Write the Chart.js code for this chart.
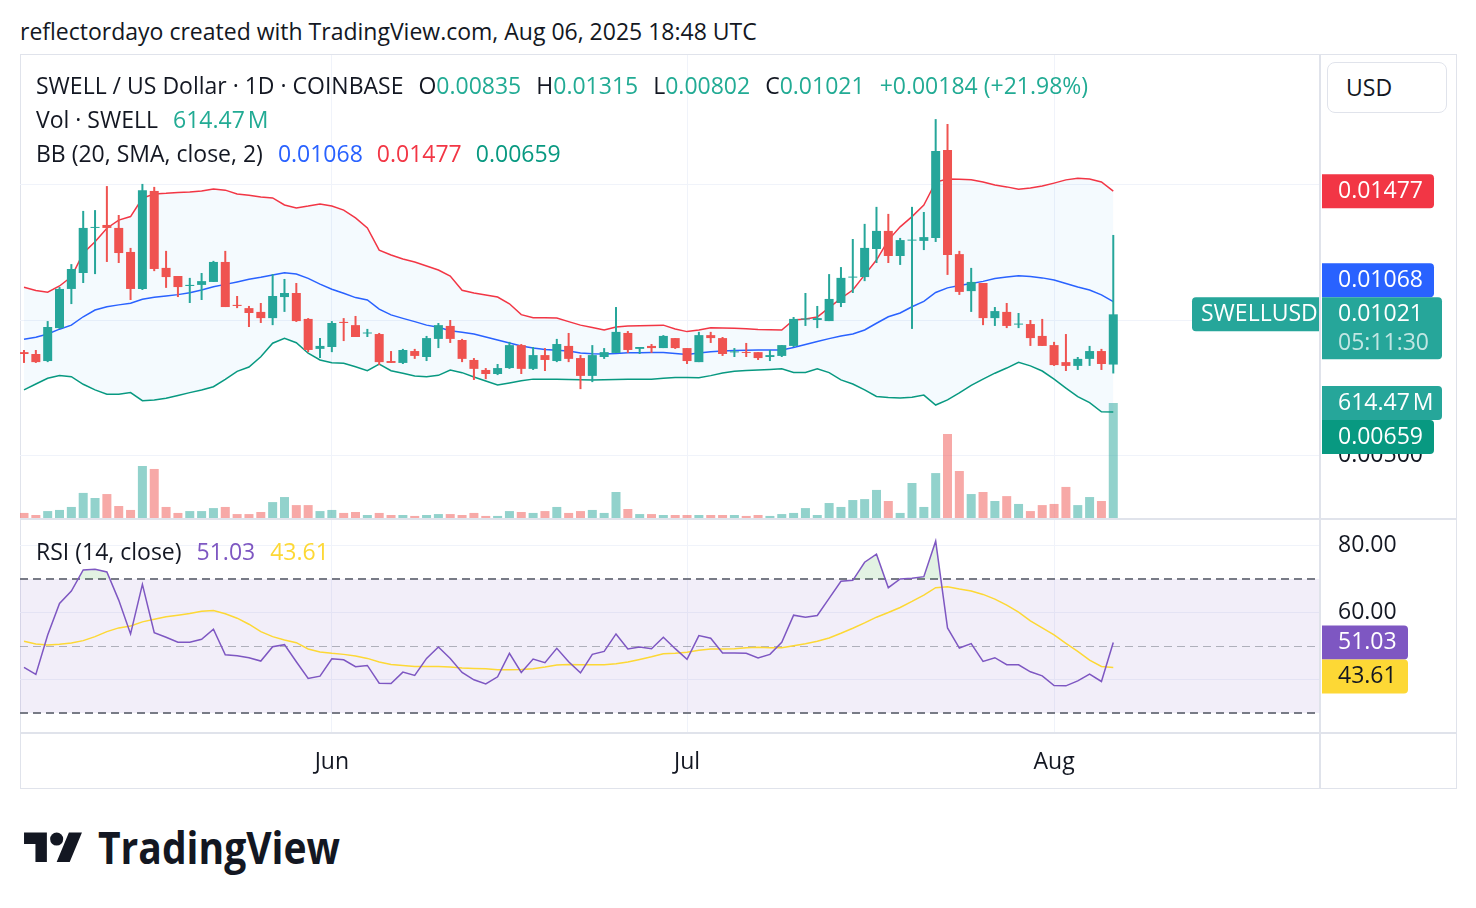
<!DOCTYPE html>
<html lang="en">
<head>
<meta charset="utf-8">
<title>SWELL / US Dollar · 1D · COINBASE</title>
<script src="https://cdn.jsdelivr.net/npm/chart.js@4.4.1/dist/chart.umd.min.js"></script>
<style>
  html,body{margin:0;padding:0;background:#ffffff;}
  body{position:relative;width:1476px;height:908px;overflow:hidden;color:#131722;font-size:20px;}
  .abs{position:absolute;white-space:nowrap;line-height:24px;}
  canvas{position:absolute;display:block;}
  .sep{position:absolute;background:#e0e3eb;}
  .k{color:#131722;}
</style>
</head>
<body>
<div id="title" class="abs" style="left:20px;top:19px;"></div>
<div id="frame" style="position:absolute;left:20px;top:54px;width:1437px;height:735px;border:1px solid #e0e3eb;box-sizing:border-box;"></div>
<canvas id="price" width="1436" height="463" style="left:20px;top:55px;width:1436px;height:463px;"></canvas>
<canvas id="rsi" width="1436" height="268" style="left:20px;top:520px;width:1436px;height:268px;"></canvas>
<div class="sep" style="left:1319px;top:54px;width:2px;height:734px;"></div>
<div class="sep" style="left:20px;top:518px;width:1436px;height:2px;"></div>
<div class="sep" style="left:20px;top:732px;width:1436px;height:2px;"></div>
<div class="abs" id="usd" style="left:1327px;top:62px;width:120px;height:51px;border:1px solid #e0e3eb;border-radius:8px;box-sizing:border-box;line-height:49px;padding-left:18px;background:#fff;">USD</div>
<div id="row1" class="abs" style="left:36px;top:73px;"></div>
<div id="row2" class="abs" style="left:36px;top:107px;"></div>
<div id="row3" class="abs" style="left:36px;top:141px;"></div>
<div id="row4" class="abs" style="left:36px;top:539px;"></div>
<svg style="position:absolute;left:24px;top:825.5px;" width="58.8" height="45.7" viewBox="0 0 36 28">
  <path d="M14 22H7V11H0V4h14v18zM28 22h-8l7.5-18h8L28 22z" fill="#131722"/>
  <circle cx="20" cy="8" r="4" fill="#131722"/>
</svg>
<svg id="tvword" style="position:absolute;left:90px;top:820px;" width="270" height="60">
  <text id="tvtext" x="8" y="44" font-size="44" font-weight="700" fill="#131722" textLength="242" lengthAdjust="spacingAndGlyphs">TradingView</text>
</svg>

<script>
// ---------------- DATA ----------------
const dates = [
'2025-05-06','2025-05-07','2025-05-08','2025-05-09','2025-05-10','2025-05-11','2025-05-12','2025-05-13','2025-05-14','2025-05-15',
'2025-05-16','2025-05-17','2025-05-18','2025-05-19','2025-05-20','2025-05-21','2025-05-22','2025-05-23','2025-05-24','2025-05-25',
'2025-05-26','2025-05-27','2025-05-28','2025-05-29','2025-05-30','2025-05-31','2025-06-01','2025-06-02','2025-06-03','2025-06-04',
'2025-06-05','2025-06-06','2025-06-07','2025-06-08','2025-06-09','2025-06-10','2025-06-11','2025-06-12','2025-06-13','2025-06-14',
'2025-06-15','2025-06-16','2025-06-17','2025-06-18','2025-06-19','2025-06-20','2025-06-21','2025-06-22','2025-06-23','2025-06-24',
'2025-06-25','2025-06-26','2025-06-27','2025-06-28','2025-06-29','2025-06-30','2025-07-01','2025-07-02','2025-07-03','2025-07-04',
'2025-07-05','2025-07-06','2025-07-07','2025-07-08','2025-07-09','2025-07-10','2025-07-11','2025-07-12','2025-07-13','2025-07-14',
'2025-07-15','2025-07-16','2025-07-17','2025-07-18','2025-07-19','2025-07-20','2025-07-21','2025-07-22','2025-07-23','2025-07-24',
'2025-07-25','2025-07-26','2025-07-27','2025-07-28','2025-07-29','2025-07-30','2025-07-31','2025-08-01','2025-08-02','2025-08-03',
'2025-08-04','2025-08-05','2025-08-06'];

const open = [0.00881,0.00874,0.00848,0.00970,0.01115,0.01174,0.01341,0.01352,0.01341,0.01252,
0.01115,0.01478,0.01193,0.01163,0.01126,0.01130,0.01141,0.01215,0.01056,0.01044,
0.01030,0.01007,0.01085,0.01100,0.01004,0.00893,0.00900,0.00993,0.00981,0.00950,
0.00948,0.00848,0.00841,0.00885,0.00863,0.00930,0.00978,0.00926,0.00852,0.00815,
0.00800,0.00822,0.00907,0.00819,0.00870,0.00848,0.00904,0.00859,0.00793,0.00863,
0.00878,0.00952,0.00893,0.00904,0.00896,0.00933,0.00896,0.00844,0.00944,0.00933,
0.00880,0.00881,0.00881,0.00863,0.00867,0.00904,0.01002,0.01000,0.00996,0.01063,
0.01157,0.01159,0.01263,0.01330,0.01237,0.01294,0.01293,0.01304,0.01630,0.01244,
0.01107,0.01137,0.01007,0.01030,0.00983,0.00985,0.00941,0.00907,0.00844,0.00830,
0.00856,0.00885,0.00835];

const high = [0.00889,0.00889,0.00996,0.01122,0.01207,0.01404,0.01407,0.01496,0.01389,0.01267,
0.01504,0.01493,0.01256,0.01163,0.01156,0.01174,0.01219,0.01256,0.01089,0.01052,
0.01063,0.01170,0.01152,0.01137,0.01007,0.00933,0.00996,0.01007,0.01015,0.00967,
0.00952,0.00885,0.00893,0.00893,0.00941,0.00989,0.01000,0.00930,0.00859,0.00822,
0.00837,0.00919,0.00911,0.00900,0.00896,0.00930,0.00952,0.00870,0.00907,0.00896,
0.01048,0.00959,0.00900,0.00911,0.00944,0.00933,0.00896,0.00956,0.00956,0.00937,
0.00896,0.00915,0.00881,0.00889,0.00907,0.01011,0.01100,0.01052,0.01170,0.01196,
0.01300,0.01356,0.01419,0.01393,0.01304,0.01419,0.01400,0.01744,0.01726,0.01256,
0.01193,0.01137,0.01048,0.01063,0.01026,0.01000,0.01004,0.00919,0.00948,0.00863,
0.00904,0.00893,0.01315];

const low = [0.00841,0.00841,0.00844,0.00967,0.01059,0.01137,0.01170,0.01215,0.01211,0.01074,
0.01111,0.01181,0.01119,0.01085,0.01063,0.01074,0.01141,0.01048,0.01044,0.00974,
0.00989,0.00981,0.01030,0.00993,0.00881,0.00859,0.00881,0.00922,0.00937,0.00937,
0.00833,0.00841,0.00837,0.00856,0.00848,0.00896,0.00915,0.00844,0.00778,0.00781,
0.00796,0.00819,0.00800,0.00815,0.00811,0.00844,0.00844,0.00744,0.00770,0.00856,
0.00878,0.00878,0.00874,0.00878,0.00896,0.00893,0.00837,0.00844,0.00915,0.00867,
0.00863,0.00863,0.00852,0.00848,0.00863,0.00900,0.00978,0.00970,0.00996,0.01048,
0.01100,0.01144,0.01211,0.01211,0.01204,0.00967,0.01259,0.01289,0.01167,0.01093,
0.01030,0.00981,0.00978,0.00970,0.00970,0.00904,0.00904,0.00830,0.00811,0.00815,
0.00830,0.00815,0.00802];

const close = [0.00874,0.00844,0.00974,0.01115,0.01189,0.01341,0.01344,0.01341,0.01248,0.01115,
0.01481,0.01189,0.01159,0.01122,0.01130,0.01144,0.01215,0.01048,0.01052,0.01026,
0.01007,0.01089,0.01100,0.00996,0.00889,0.00904,0.00989,0.00989,0.00937,0.00952,
0.00844,0.00841,0.00889,0.00867,0.00933,0.00981,0.00930,0.00856,0.00819,0.00800,
0.00822,0.00907,0.00819,0.00870,0.00852,0.00911,0.00856,0.00793,0.00870,0.00881,
0.00956,0.00889,0.00900,0.00896,0.00941,0.00896,0.00848,0.00944,0.00933,0.00874,
0.00881,0.00878,0.00859,0.00870,0.00907,0.01004,0.01004,0.01007,0.01078,0.01156,
0.01159,0.01267,0.01330,0.01237,0.01296,0.01296,0.01307,0.01626,0.01241,0.01104,
0.01141,0.01007,0.01033,0.00978,0.00985,0.00933,0.00904,0.00833,0.00830,0.00856,
0.00885,0.00837,0.01021];

// volume in millions of SWELL
const volume = [27,16,37,43,59,134,107,128,64,43,
278,262,59,27,37,37,53,59,21,21,
32,85,112,69,69,37,43,27,32,16,
27,16,16,11,16,21,21,16,27,11,
11,37,32,27,37,59,27,37,43,27,
139,48,21,21,16,16,16,16,16,16,
16,11,16,11,21,27,53,16,80,59,
96,101,150,91,27,187,59,240,449,251,
128,139,91,117,75,37,69,75,166,69,
112,91,614.47];

const bbUpper = [0.01121,0.01109,0.01103,0.01126,0.01160,0.01247,0.01290,0.01340,0.01370,0.01383,
0.01451,0.01467,0.01469,0.01472,0.01474,0.01478,0.01485,0.01481,0.01467,0.01462,
0.01456,0.01452,0.01426,0.01415,0.01422,0.01430,0.01422,0.01407,0.01378,0.01341,
0.01259,0.01241,0.01226,0.01215,0.01200,0.01185,0.01163,0.01110,0.01100,0.01093,
0.01085,0.01060,0.01020,0.01008,0.01008,0.01007,0.00994,0.00981,0.00972,0.00963,
0.00974,0.00978,0.00979,0.00980,0.00981,0.00967,0.00957,0.00963,0.00971,0.00970,
0.00969,0.00968,0.00965,0.00964,0.00963,0.01000,0.01004,0.01011,0.01046,0.01080,
0.01111,0.01167,0.01222,0.01296,0.01345,0.01383,0.01426,0.01511,0.01522,0.01521,
0.01519,0.01511,0.01500,0.01493,0.01484,0.01489,0.01496,0.01507,0.01519,0.01525,
0.01522,0.01511,0.01477];

const bbBasis = [0.00929,0.00936,0.00948,0.00966,0.00981,0.01012,0.01037,0.01049,0.01056,0.01062,
0.01077,0.01084,0.01089,0.01094,0.01101,0.01111,0.01123,0.01132,0.01141,0.01151,
0.01158,0.01167,0.01175,0.01170,0.01154,0.01133,0.01114,0.01099,0.01083,0.01074,
0.01040,0.01019,0.01006,0.00994,0.00981,0.00973,0.00960,0.00955,0.00948,0.00937,
0.00926,0.00915,0.00904,0.00896,0.00891,0.00888,0.00885,0.00878,0.00875,0.00874,
0.00876,0.00879,0.00879,0.00880,0.00880,0.00876,0.00872,0.00878,0.00882,0.00885,
0.00887,0.00888,0.00889,0.00889,0.00889,0.00898,0.00909,0.00920,0.00931,0.00941,
0.00948,0.00963,0.00988,0.01012,0.01026,0.01049,0.01069,0.01102,0.01119,0.01128,
0.01135,0.01143,0.01154,0.01159,0.01164,0.01161,0.01156,0.01148,0.01135,0.01122,
0.01111,0.01093,0.01068];

const bbLower = [0.00741,0.00763,0.00784,0.00794,0.00790,0.00762,0.00741,0.00725,0.00725,0.00731,
0.00701,0.00704,0.00710,0.00720,0.00731,0.00741,0.00753,0.00780,0.00810,0.00826,
0.00864,0.00914,0.00932,0.00916,0.00877,0.00852,0.00842,0.00840,0.00827,0.00812,
0.00837,0.00812,0.00803,0.00793,0.00790,0.00795,0.00815,0.00805,0.00789,0.00774,
0.00759,0.00767,0.00775,0.00781,0.00781,0.00781,0.00780,0.00779,0.00778,0.00779,
0.00780,0.00781,0.00781,0.00781,0.00784,0.00787,0.00787,0.00786,0.00794,0.00804,
0.00810,0.00813,0.00815,0.00817,0.00819,0.00806,0.00806,0.00819,0.00805,0.00778,
0.00763,0.00741,0.00717,0.00713,0.00711,0.00714,0.00722,0.00685,0.00704,0.00730,
0.00758,0.00781,0.00803,0.00822,0.00843,0.00830,0.00811,0.00781,0.00748,0.00716,
0.00694,0.00660,0.00659];

const rsi = [43.6,41.5,53.3,62.7,66.4,72.7,72.9,72.1,63.7,53.6,
68.4,54.0,52.6,51.1,51.1,52.0,55.0,47.4,47.1,46.5,
45.5,49.8,50.4,45.3,40.3,41.0,46.2,45.9,43.8,44.2,
38.9,38.8,42.2,41.2,46.3,49.7,46.3,42.1,39.9,38.7,
40.8,47.8,42.1,46.1,45.0,49.3,45.3,42.0,47.5,48.4,
53.6,49.1,49.7,49.2,52.6,49.2,46.0,53.1,52.3,47.9,
47.9,47.8,46.4,47.5,51.1,59.2,58.6,59.1,64.2,69.3,
69.6,75.0,77.4,67.4,70.0,70.2,70.7,81.3,55.4,49.4,
50.7,45.4,46.5,44.4,44.4,42.3,41.1,38.2,38.1,39.6,
41.6,39.4,51.03];

const rsiMA = [51.4,50.6,50.3,50.5,50.9,51.6,52.8,54.3,55.4,56.0,
57.2,58.0,58.7,59.2,59.7,60.4,60.6,59.6,58.3,56.5,
54.3,52.8,51.8,51.0,49.1,48.2,47.8,47.5,47.0,46.3,
45.2,44.5,44.2,43.9,43.9,43.9,43.7,43.4,43.3,43.2,
42.9,42.9,43.0,43.2,43.7,44.3,44.5,44.4,44.4,44.4,
44.7,45.2,46.0,46.8,47.7,47.8,48.1,48.7,49.1,49.1,
49.2,49.5,49.6,49.5,49.5,50.1,50.7,51.4,52.4,53.8,
55.3,56.9,58.6,60.0,61.5,63.3,65.2,67.4,67.7,67.0,
66.4,65.4,64.0,62.2,60.1,57.5,55.4,53.3,50.8,48.4,
45.8,43.9,43.61];

const monthTickDates = ['2025-06-01','2025-07-01','2025-08-01'];
const monthTickLabels = ['Jun','Jul','Aug'];
const priceTicks = [0.005, 0.010, 0.015];
const rsiTicks = [40, 60, 80];

// ---------------- TEXT ----------------
const TITLE = 'reflectordayo created with TradingView.com, Aug 06, 2025 18:48 UTC';
const SYMBOL = 'SWELL / US Dollar · 1D · COINBASE';
const TICKER = 'SWELLUSD';
const COUNTDOWN = '05:11:30';

// ---------------- FONT ----------------
const FAMILY = 'Open Sans';
const FONT_STACK = `"${FAMILY}", "Noto Sans", sans-serif`;
function fitSize(){
  const m = document.createElement('canvas').getContext('2d');
  m.font = `20px ${FONT_STACK}`;
  const w = m.measureText(TITLE).width;
  const s = 20 * 750 / w;
  return Math.max(18, Math.min(23, s));
}
const FS = Math.round(fitSize() * 10) / 10;
document.body.style.fontFamily = FONT_STACK;
document.body.style.fontSize = FS + 'px';
document.getElementById('tvtext').setAttribute('font-family', FONT_STACK);
Chart.defaults.font.family = FONT_STACK;
Chart.defaults.font.size = FS;
Chart.defaults.color = '#131722';

// ---------------- LEGENDS ----------------
const n = close.length - 1;
const f5 = v => v.toFixed(5);
const chg = close[n] - close[n-1];
const pct = chg / close[n-1] * 100;
const sgn = v => (v >= 0 ? '+' : '');
const valCol = close[n] >= open[n] ? '#22ab94' : '#f23645';
document.getElementById('title').textContent = TITLE;
document.getElementById('row1').innerHTML =
  `<span class="k">${SYMBOL}</span>` +
  `<span class="k" style="margin-left:15px">O</span><span style="color:${valCol}">${f5(open[n])}</span>` +
  `<span class="k" style="margin-left:15px">H</span><span style="color:${valCol}">${f5(high[n])}</span>` +
  `<span class="k" style="margin-left:15px">L</span><span style="color:${valCol}">${f5(low[n])}</span>` +
  `<span class="k" style="margin-left:15px">C</span><span style="color:${valCol}">${f5(close[n])}</span>` +
  `<span style="color:${valCol};margin-left:15px">${sgn(chg)}${f5(chg)} (${sgn(pct)}${pct.toFixed(2)}%)</span>`;
document.getElementById('row2').innerHTML =
  `<span class="k">Vol · SWELL</span><span style="color:#22ab94;margin-left:15px">${volume[n].toFixed(2)}\u202FM</span>`;
document.getElementById('row3').innerHTML =
  `<span class="k">BB (20, SMA, close, 2)</span>` +
  `<span style="color:#2962FF;margin-left:15px">${f5(bbBasis[n])}</span>` +
  `<span style="color:#F23645;margin-left:14px">${f5(bbUpper[n])}</span>` +
  `<span style="color:#089981;margin-left:14px">${f5(bbLower[n])}</span>`;
document.getElementById('row4').innerHTML =
  `<span class="k">RSI (14, close)</span>` +
  `<span style="color:#7E57C2;margin-left:15px">${rsi[n].toFixed(2)}</span>` +
  `<span style="color:#FDD835;margin-left:15px">${rsiMA[n].toFixed(2)}</span>`;

// ---------------- LAYOUT CONSTANTS ----------------
const X_MIN = -0.338, X_MAX = 109.46;          // visible bar range (right margin like TradingView)
const P_MIN = 0.0026667, P_MAX = 0.0198148;     // price pane range
const VOL_MAX = 2474;                           // volume overlay scale
const R_MIN = 24.03, R_MAX = 87.61;             // RSI pane range
const GRID = '#f0f3fa';
const AXIS_W = 136;

const idx = dates.map((d, i) => i);
const monthIdx = monthTickDates.map(d => dates.indexOf(d));
const isUp = close.map((c, i) => c >= open[i]);
const candleCol = isUp.map(u => u ? '#26a69a' : '#ef5350');
const volCol = isUp.map(u => u ? 'rgba(38,166,154,0.5)' : 'rgba(239,83,80,0.5)');

function tag(ctx, x, top, w, h, bg, radii, lines){
  ctx.save();
  ctx.fillStyle = bg;
  ctx.beginPath();
  ctx.roundRect(x, top, w, h, radii);
  ctx.fill();
  ctx.font = `${FS}px ${FONT_STACK}`;
  ctx.textBaseline = 'middle';
  ctx.textAlign = 'left';
  for (const l of lines){
    ctx.fillStyle = l.color;
    ctx.fillText(l.text, x + (l.dx ?? 16), top + l.dy);
  }
  ctx.restore();
}

const priceLabels = {
  id: 'priceLabels',
  afterDraw(chart){
    const ctx = chart.ctx, ys = chart.scales.y, yv = chart.scales.yVol, ca = chart.chartArea;
    const x0 = ca.right + 2, H = 34;
    const cy = ys.getPixelForValue(close[n]);
    const cur = {top: cy - 17, bottom: cy - 17 + 62};
    const vy = yv.getPixelForValue(volume[n]);
    const vol = {top: vy - 17, bottom: vy + 17};
    const uTop = ys.getPixelForValue(bbUpper[n]) - 17;
    let mTop = ys.getPixelForValue(bbBasis[n]) - 17;
    if (mTop + H > cur.top && mTop < cur.bottom) mTop = (mTop + H/2 < cur.top + 31) ? cur.top - H : cur.bottom;
    let lTop = ys.getPixelForValue(bbLower[n]) - 17;
    if (lTop + H > vol.top && lTop < vol.bottom) lTop = (lTop + H/2 > vy) ? vol.bottom : vol.top - H;
    const R = [0, 4, 4, 0];
    tag(ctx, x0, uTop, 112, H, '#F23645', R, [{text: f5(bbUpper[n]), color: '#fff', dy: 17}]);
    tag(ctx, x0, mTop, 112, H, '#2962FF', R, [{text: f5(bbBasis[n]), color: '#fff', dy: 17}]);
    tag(ctx, x0, vol.top, 120, H, '#26a69a', R, [{text: volume[n].toFixed(2) + '\u202FM', color: '#fff', dy: 17}]);
    tag(ctx, x0, lTop, 112, H, '#089981', R, [{text: f5(bbLower[n]), color: '#fff', dy: 17}]);
    tag(ctx, x0, cur.top, 120, 62, '#26a69a', R, [
      {text: f5(close[n]), color: '#fff', dy: 17},
      {text: COUNTDOWN, color: 'rgba(255,255,255,0.72)', dy: 46}]);
    tag(ctx, ca.right - 128, cur.top, 128, H, '#26a69a', [4, 0, 0, 4], [{text: TICKER, color: '#fff', dy: 17, dx: 9}]);
  }
};

const commonX = (showLabels) => ({
  type: 'linear', min: X_MIN, max: X_MAX, offset: false,
  grid: {color: GRID, drawTicks: false, offset: false},
  border: {display: false},
  ticks: showLabels
    ? {display: true, padding: 16, maxRotation: 0, autoSkip: false, color: '#131722', font: {size: FS},
       callback: (v) => { const k = monthIdx.indexOf(v); return k >= 0 ? monthTickLabels[k] : ''; }}
    : {display: false},
  afterBuildTicks: s => { s.ticks = monthIdx.map(v => ({value: v})); },
  afterFit: s => { s.height = showLabels ? 55 : 0; s.paddingLeft = 0; s.paddingRight = 0; }
});

new Chart(document.getElementById('price'), {
  type: 'bar',
  data: {
    datasets: [
      {type: 'bar', label: 'Volume', yAxisID: 'yVol', data: idx.map(i => ({x: i, y: volume[i]})),
       backgroundColor: volCol, barThickness: 9, grouped: false, inflateAmount: 0, borderWidth: 0, order: 6},
      {type: 'line', label: 'BB Upper', yAxisID: 'y', data: idx.map(i => ({x: i, y: bbUpper[i]})),
       borderColor: '#F23645', borderWidth: 1.5, pointRadius: 0, tension: 0, fill: '+2',
       backgroundColor: 'rgba(33,150,243,0.05)', order: 5},
      {type: 'line', label: 'BB Basis', yAxisID: 'y', data: idx.map(i => ({x: i, y: bbBasis[i]})),
       borderColor: '#2962FF', borderWidth: 1.5, pointRadius: 0, tension: 0, fill: false, order: 4},
      {type: 'line', label: 'BB Lower', yAxisID: 'y', data: idx.map(i => ({x: i, y: bbLower[i]})),
       borderColor: '#089981', borderWidth: 1.5, pointRadius: 0, tension: 0, fill: false, order: 4},
      {type: 'bar', label: 'Wick', yAxisID: 'y', data: idx.map(i => ({x: i, y: [low[i], high[i]]})),
       backgroundColor: candleCol, barThickness: 2, grouped: false, inflateAmount: 0, borderWidth: 0, order: 1},
      {type: 'bar', label: 'Body', yAxisID: 'y', data: idx.map(i => ({x: i, y: [open[i], close[i]]})),
       backgroundColor: candleCol, barThickness: 9, grouped: false, inflateAmount: 0, borderWidth: 0,
       minBarLength: 1, order: 0}
    ]
  },
  options: {
    responsive: false, animation: false, devicePixelRatio: 1, events: [],
    layout: {padding: 0, autoPadding: false},
    plugins: {legend: {display: false}, tooltip: {enabled: false}},
    scales: {
      x: commonX(false),
      y: {type: 'linear', position: 'right', min: P_MIN, max: P_MAX,
          grid: {color: GRID, drawTicks: false}, border: {display: false},
          ticks: {padding: 18, color: '#131722', font: {size: FS}, callback: v => Number(v).toFixed(5)},
          afterBuildTicks: s => { s.ticks = priceTicks.map(v => ({value: v})); },
          afterFit: s => { s.width = AXIS_W; s.paddingTop = 0; s.paddingBottom = 0; }},
      yVol: {type: 'linear', display: false, min: 0, max: VOL_MAX}
    }
  },
  plugins: [priceLabels]
});

const rsiBands = {
  id: 'rsiBands',
  beforeDatasetsDraw(chart){
    const ctx = chart.ctx, ys = chart.scales.y, ca = chart.chartArea;
    const y70 = ys.getPixelForValue(70), y50 = ys.getPixelForValue(50), y30 = ys.getPixelForValue(30);
    ctx.save();
    ctx.fillStyle = 'rgba(126,87,194,0.1)';
    ctx.fillRect(ca.left, y70, ca.right - ca.left, y30 - y70);
    ctx.setLineDash([8, 5]);
    ctx.strokeStyle = '#787b86'; ctx.lineWidth = 2;
    for (const y of [y70, y30]){ ctx.beginPath(); ctx.moveTo(ca.left, Math.round(y)); ctx.lineTo(ca.right, Math.round(y)); ctx.stroke(); }
    ctx.strokeStyle = 'rgba(120,123,134,0.55)'; ctx.lineWidth = 1;
    ctx.beginPath(); ctx.moveTo(ca.left, Math.round(y50) + 0.5); ctx.lineTo(ca.right, Math.round(y50) + 0.5); ctx.stroke();
    ctx.restore();
  },
  afterDraw(chart){
    const ctx = chart.ctx, ys = chart.scales.y, ca = chart.chartArea;
    const x0 = ca.right + 2, H = 34;
    const rTop = ys.getPixelForValue(rsi[n]) - 17;
    let mTop = ys.getPixelForValue(rsiMA[n]) - 17;
    if (mTop + H > rTop && mTop < rTop + H) mTop = (rsiMA[n] < rsi[n]) ? rTop + H : rTop - H;
    const R = [0, 4, 4, 0];
    tag(ctx, x0, rTop, 86, H, '#7E57C2', R, [{text: rsi[n].toFixed(2), color: '#fff', dy: 17}]);
    tag(ctx, x0, mTop, 86, H, '#FDD835', R, [{text: rsiMA[n].toFixed(2), color: '#131722', dy: 17}]);
  }
};

new Chart(document.getElementById('rsi'), {
  type: 'line',
  data: {
    datasets: [
      {label: 'RSI', data: idx.map(i => ({x: i, y: rsi[i]})), borderColor: '#7E57C2', borderWidth: 1.5,
       pointRadius: 0, tension: 0,
       fill: {target: {value: 70}, above: 'rgba(76,175,80,0.16)', below: 'rgba(0,0,0,0)'}, order: 1},
      {label: 'RSI-based MA', data: idx.map(i => ({x: i, y: rsiMA[i]})), borderColor: '#FDD835', borderWidth: 1.5,
       pointRadius: 0, tension: 0, fill: false, order: 2}
    ]
  },
  options: {
    responsive: false, animation: false, devicePixelRatio: 1, events: [],
    layout: {padding: 0, autoPadding: false},
    plugins: {legend: {display: false}, tooltip: {enabled: false}},
    scales: {
      x: commonX(true),
      y: {type: 'linear', position: 'right', min: R_MIN, max: R_MAX,
          grid: {color: GRID, drawTicks: false}, border: {display: false},
          ticks: {padding: 18, color: '#131722', font: {size: FS}, callback: v => Number(v).toFixed(2)},
          afterBuildTicks: s => { s.ticks = rsiTicks.map(v => ({value: v})); },
          afterFit: s => { s.width = AXIS_W; s.paddingTop = 0; s.paddingBottom = 0; }}
    }
  },
  plugins: [rsiBands]
});
</script>
</body>
</html>
